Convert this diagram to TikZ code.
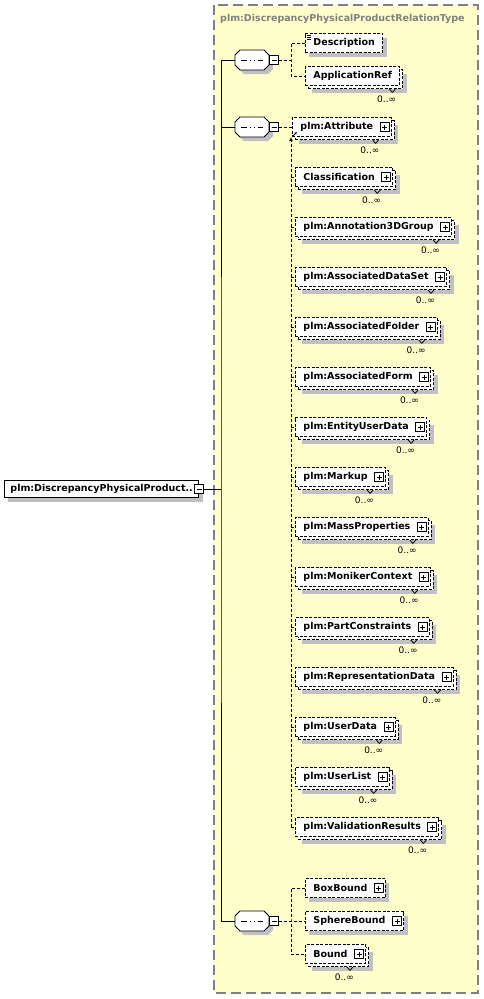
\documentclass[tikz,border=0pt]{standalone}
\usepackage{fontspec}
\setmainfont{DejaVu Sans}
\usetikzlibrary{shadows,arrows.meta}
\definecolor{panelfill}{HTML}{FFFFCC}
\definecolor{panelline}{HTML}{808080}
\definecolor{shadowgray}{HTML}{C0C0C0}
\newcommand\eltfont{\fontsize{9.5}{11}\selectfont\bfseries}
\newcommand\multfont{\fontsize{9}{10}\selectfont}
\tikzset{
  panel/.style={draw=panelline, fill=panelfill, line width=1.6pt, dash pattern=on 10pt off 5pt},
  ttl/.style={anchor=west, inner sep=0pt, font=\eltfont, text=panelline},
  trunk/.style={line width=1pt},
  conn/.style={line width=1pt, dash pattern=on 3pt off 2pt},
  elt/.style={draw, line width=0.9pt, dash pattern=on 3pt off 1.5pt, fill=white, font=\eltfont,
    inner xsep=8pt, inner ysep=0pt, minimum height=19pt, anchor=west},
  eltone/.style={elt, drop shadow={shadow xshift=4pt, shadow yshift=-4pt, fill=shadowgray, opacity=1}},
  eltmany/.style={elt, drop shadow={shadow xshift=7pt, shadow yshift=-7pt, fill=shadowgray, opacity=1},
    copy shadow={shadow xshift=3pt, shadow yshift=-3pt, draw=black, fill=white, line width=0.9pt,
    dash pattern=on 3pt off 1.5pt}},
  rootelt/.style={draw, solid, line width=0.9pt, fill=white, font=\eltfont, inner xsep=6pt, inner ysep=0pt,
    minimum height=17pt, anchor=west, drop shadow={shadow xshift=4pt, shadow yshift=-4pt, fill=shadowgray, opacity=1}},
  plus/.style={execute at end node={\hspace{10pt}},
    path picture={
      \draw[solid, line width=0.9pt, fill=white] ([shift={(-11pt,-4.5pt)}]path picture bounding box.east)
        rectangle ([shift={(-2pt,4.5pt)}]path picture bounding box.east);
      \draw[solid, line width=0.9pt] ([shift={(-9pt,0pt)}]path picture bounding box.east)
        -- ([shift={(-4pt,0pt)}]path picture bounding box.east)
        ([shift={(-6.5pt,-2.5pt)}]path picture bounding box.east)
        -- ([shift={(-6.5pt,2.5pt)}]path picture bounding box.east);}},
  doc/.style={path picture={
      \draw[solid, line width=0.8pt] ([shift={(2pt,-1.5pt)}]path picture bounding box.north west) -- ++(4pt,0pt)
        ([shift={(2pt,-3.5pt)}]path picture bounding box.north west) -- ++(4pt,0pt)
        ([shift={(2pt,-5.5pt)}]path picture bounding box.north west) -- ++(4pt,0pt);}},
  minusb/.style={draw, solid, line width=0.9pt, fill=white, inner sep=0pt, minimum size=9pt,
    path picture={\draw[line width=0.9pt] ([xshift=-2.5pt]path picture bounding box.center)
      -- ([xshift=2.5pt]path picture bounding box.center);}},
  seq/.style={minimum width=34pt, minimum height=20pt, inner sep=0pt},
  octagon/.style={insert path={++(-17pt,-5pt) -- ++(0pt,10pt) -- ++(5pt,5pt) -- ++(24pt,0pt) -- ++(5pt,-5pt)
    -- ++(0pt,-10pt) -- ++(-5pt,-5pt) -- ++(-24pt,0pt) -- cycle}},
  seqline/.style={draw, fill=white, line width=0.9pt,
    drop shadow={shadow xshift=4pt, shadow yshift=-4pt, fill=shadowgray, opacity=1},
    path picture={
      \draw[line width=1pt] ([xshift=-11pt]path picture bounding box.center)
        -- ([xshift=11pt]path picture bounding box.center);
      \fill ([shift={(-5.5pt,-1.5pt)}]path picture bounding box.center) rectangle ++(3pt,3pt);
      \fill ([shift={(-1.5pt,-1.5pt)}]path picture bounding box.center) rectangle ++(3pt,3pt);
      \fill ([shift={(2.5pt,-1.5pt)}]path picture bounding box.center) rectangle ++(3pt,3pt);}},
  mult/.style={font=\multfont, inner sep=0pt, anchor=north east,
    append after command={
      ([shift={(-7pt,7pt)}]\tikzlastnode.north east) edge[solid, line width=0.8pt] ([shift={(-4pt,3.5pt)}]\tikzlastnode.north east)
      ([shift={(-1pt,7pt)}]\tikzlastnode.north east) edge[solid, line width=0.8pt] ([shift={(-4pt,3.5pt)}]\tikzlastnode.north east)}}
}
\begin{document}
\begin{tikzpicture}[x=1pt, y=-1pt]
\useasboundingbox (0,0) rectangle (483,999);
\draw[panel] (214,5) rectangle (478,993);
\node[ttl] (ttl) at (220,19) {plm:DiscrepancyPhysicalProductRelationType};

% root element and the three sequences
\node[rootelt] (root) at (4,489) {plm:DiscrepancyPhysicalProduct..};
\node[minusb] (rootm) at (root.east) {};

\node[seq] (s1) at (252,60) {};
\draw[seqline] (s1.center) [octagon];
\node[minusb, anchor=west] (s1m) at (s1.east) {};
\node[seq] (s2) at (252,127) {};
\draw[seqline] (s2.center) [octagon];
\node[minusb, anchor=west] (s2m) at (s2.east) {};
\node[seq] (s3) at (252,921) {};
\draw[seqline] (s3.center) [octagon];
\node[minusb, anchor=west] (s3m) at (s3.east) {};

\coordinate (tk) at (221,489);
\draw[trunk] (rootm.east) -- (tk);
\draw[trunk] (s1.west) -| (tk) |- (s3.west);
\draw[trunk] (s2.west) -- (s2.west -| tk);

% sequence 1
\node[eltone, doc] (desc) at (305,43) {Description};
\node[eltmany] (appref) at (305,76) {ApplicationRef};
\node[mult] (appref-m) at ([shift={(-4pt,-10pt)}]appref.south east) {0..∞};

\coordinate (v1) at (291,60);
\draw[conn] (s1m.east) -- (v1);
\draw[conn] (desc.west) -| (v1) |- (appref.west);

% sequence 2
\node[eltmany, plus] (e1) at (292,127) {plm:Attribute};
\node[mult] (m1) at ([shift={(-12pt,-10pt)}]e1.south east) {0..∞};
\node[eltmany, plus] (e2) at (295,177) {Classification};
\node[mult] (m2) at ([shift={(-12pt,-10pt)}]e2.south east) {0..∞};
\node[eltmany, plus] (e3) at (295,227) {plm:Annotation3DGroup};
\node[mult] (m3) at ([shift={(-12pt,-10pt)}]e3.south east) {0..∞};
\node[eltmany, plus] (e4) at (295,277) {plm:AssociatedDataSet};
\node[mult] (m4) at ([shift={(-12pt,-10pt)}]e4.south east) {0..∞};
\node[eltmany, plus] (e5) at (295,327) {plm:AssociatedFolder};
\node[mult] (m5) at ([shift={(-12pt,-10pt)}]e5.south east) {0..∞};
\node[eltmany, plus] (e6) at (295,377) {plm:AssociatedForm};
\node[mult] (m6) at ([shift={(-12pt,-10pt)}]e6.south east) {0..∞};
\node[eltmany, plus] (e7) at (295,427) {plm:EntityUserData};
\node[mult] (m7) at ([shift={(-12pt,-10pt)}]e7.south east) {0..∞};
\node[eltmany, plus] (e8) at (295,477) {plm:Markup};
\node[mult] (m8) at ([shift={(-12pt,-10pt)}]e8.south east) {0..∞};
\node[eltmany, plus] (e9) at (295,527) {plm:MassProperties};
\node[mult] (m9) at ([shift={(-12pt,-10pt)}]e9.south east) {0..∞};
\node[eltmany, plus] (e10) at (295,577) {plm:MonikerContext};
\node[mult] (m10) at ([shift={(-12pt,-10pt)}]e10.south east) {0..∞};
\node[eltmany, plus] (e11) at (295,627) {plm:PartConstraints};
\node[mult] (m11) at ([shift={(-12pt,-10pt)}]e11.south east) {0..∞};
\node[eltmany, plus] (e12) at (295,677) {plm:RepresentationData};
\node[mult] (m12) at ([shift={(-12pt,-10pt)}]e12.south east) {0..∞};
\node[eltmany, plus] (e13) at (295,727) {plm:UserData};
\node[mult] (m13) at ([shift={(-12pt,-10pt)}]e13.south east) {0..∞};
\node[eltmany, plus] (e14) at (295,777) {plm:UserList};
\node[mult] (m14) at ([shift={(-12pt,-10pt)}]e14.south east) {0..∞};
\node[eltmany, plus] (e15) at (295,827) {plm:ValidationResults};
\node[mult] (m15) at ([shift={(-12pt,-10pt)}]e15.south east) {0..∞};

\coordinate (v2) at (291,137);
\draw[conn] (s2m.east) -- (e1.west);
\draw[-{Latex[length=2.5pt,width=2.5pt]}, line width=0.8pt] ([shift={(1pt,1pt)}]e1.south west) -- ([shift={(5pt,5pt)}]e1.south west);
\draw[conn, -{Latex[length=4pt,width=4pt]}] (v2 |- e15.west) -- (v2);
\draw[conn] (v2 |- e2.west) -- (e2.west);
\draw[conn] (v2 |- e3.west) -- (e3.west);
\draw[conn] (v2 |- e4.west) -- (e4.west);
\draw[conn] (v2 |- e5.west) -- (e5.west);
\draw[conn] (v2 |- e6.west) -- (e6.west);
\draw[conn] (v2 |- e7.west) -- (e7.west);
\draw[conn] (v2 |- e8.west) -- (e8.west);
\draw[conn] (v2 |- e9.west) -- (e9.west);
\draw[conn] (v2 |- e10.west) -- (e10.west);
\draw[conn] (v2 |- e11.west) -- (e11.west);
\draw[conn] (v2 |- e12.west) -- (e12.west);
\draw[conn] (v2 |- e13.west) -- (e13.west);
\draw[conn] (v2 |- e14.west) -- (e14.west);
\draw[conn] (v2 |- e15.west) -- (e15.west);

% sequence 3
\node[eltone, plus] (boxb) at (305,888) {BoxBound};
\node[eltone, plus] (sphb) at (305,921) {SphereBound};
\node[eltmany, plus] (bnd) at (305,954) {Bound};
\node[mult] (bnd-m) at ([shift={(-12pt,-10pt)}]bnd.south east) {0..∞};

\coordinate (v3) at (291,921);
\draw[conn] (s3m.east) -- (v3) -- (sphb.west);
\draw[conn] (boxb.west) -| (v3) |- (bnd.west);
\end{tikzpicture}
\end{document}
